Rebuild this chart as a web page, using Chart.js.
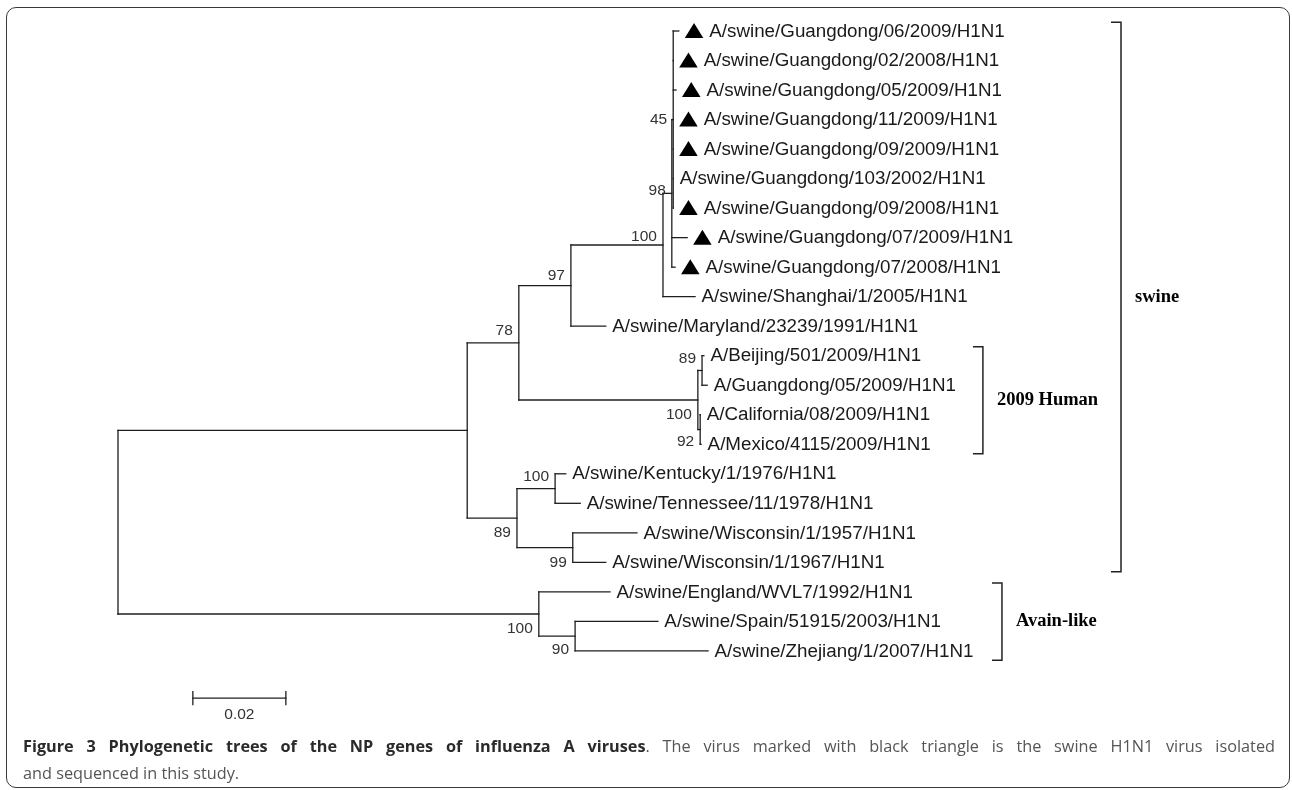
<!DOCTYPE html>
<html>
<head>
<meta charset="utf-8">
<script src="https://cdn.jsdelivr.net/npm/chart.js@4.4.0/dist/chart.umd.min.js"></script>
<style>
html, body { margin: 0; padding: 0; background: #fff; }
#wrap { position: relative; width: 1292px; height: 790px; overflow: hidden; }
#frame { position: absolute; left: 6px; top: 7px; width: 1284px; height: 781px; box-sizing: border-box;
         border: 1.5px solid #3a3a3a; border-radius: 10px; }
#tree { position: absolute; left: 0; top: 0; }
.cap { position: absolute; left: 23px; width: 1252px; font-family: 'Open Sans', sans-serif; font-size: 16.25px;
       line-height: 27px; color: #555; white-space: nowrap; }
#cap1 { top: 733px; text-align: justify; text-align-last: justify; white-space: normal; }
#cap2 { top: 760px; }
.cap b { color: #2a2a2a; }
</style>
</head>
<body>
<div id="wrap">
  <div id="frame"></div>
  <canvas id="tree" width="1292" height="790"></canvas>
  <div class="cap" id="cap1"><b>Figure 3 Phylogenetic trees of the NP genes of influenza A viruses</b>. The virus marked with black triangle is the swine H1N1 virus isolated</div>
  <div class="cap" id="cap2">and sequenced in this study.</div>
</div>
<script>
// leaves, top to bottom
var taxa = [
    'A/swine/Guangdong/06/2009/H1N1',
    'A/swine/Guangdong/02/2008/H1N1',
    'A/swine/Guangdong/05/2009/H1N1',
    'A/swine/Guangdong/11/2009/H1N1',
    'A/swine/Guangdong/09/2009/H1N1',
    'A/swine/Guangdong/103/2002/H1N1',
    'A/swine/Guangdong/09/2008/H1N1',
    'A/swine/Guangdong/07/2009/H1N1',
    'A/swine/Guangdong/07/2008/H1N1',
    'A/swine/Shanghai/1/2005/H1N1',
    'A/swine/Maryland/23239/1991/H1N1',
    'A/Beijing/501/2009/H1N1',
    'A/Guangdong/05/2009/H1N1',
    'A/California/08/2009/H1N1',
    'A/Mexico/4115/2009/H1N1',
    'A/swine/Kentucky/1/1976/H1N1',
    'A/swine/Tennessee/11/1978/H1N1',
    'A/swine/Wisconsin/1/1957/H1N1',
    'A/swine/Wisconsin/1/1967/H1N1',
    'A/swine/England/WVL7/1992/H1N1',
    'A/swine/Spain/51915/2003/H1N1',
    'A/swine/Zhejiang/1/2007/H1N1'
];
// distance from root (substitutions/site)
var tipDepth = [0.1206, 0.1194, 0.1200, 0.1194, 0.1194, 0.1194, 0.1194, 0.1224, 0.1198, 0.1241, 0.1049,
                0.1260, 0.1267, 0.1252, 0.1254, 0.0963, 0.0994, 0.1116, 0.1049, 0.1058, 0.1161, 0.1269];
// 1 = black triangle (isolated in this study)
var marked = [1, 1, 1, 1, 1, 0, 1, 1, 1, 0, 0, 0, 0, 0, 0, 0, 0, 0, 0, 0, 0, 0];

// internal nodes, children listed before parents
var nodeNames = ['n45', 'n98', 'n100a', 'n97', 'nH89', 'nH92', 'nH100', 'n78', 'nKT', 'n99', 'n89', 'nSw', 'n90', 'nAv', 'root'];
var nodeDepth = [0.1194, 0.1191, 0.1172, 0.0974, 0.1256, 0.1252, 0.1247, 0.0862, 0.0940, 0.0978, 0.0858, 0.0751, 0.0983, 0.0905, 0];
var nodeKids = [[0, 1, 2, 3, 4, 5, 6], ['n45', 7, 8], ['n98', 9], ['n100a', 10], [11, 12], [13, 14], ['nH89', 'nH92'],
                ['n97', 'nH100'], [15, 16], [17, 18], ['nKT', 'n99'], ['n78', 'n89'], [20, 21], [19, 'n90'], ['nSw', 'nAv']];
var bootstrap = ['45', '98', '100', '97', '89', '92', '100', '78', '100', '99', '89', '', '90', '100', ''];

var groupNames = ['swine', '2009 Human', 'Avain-like'];
var groupFirst = [0, 11, 19];
var groupLast = [18, 14, 21];

var scaleBarLen = 0.02;
var scaleBarText = '0.02';

// layout / style
var W = 1292, H = 790;
var rootPx = 118, pxPerUnit = 4650;
var firstRowPx = 31, rowGapPx = 29.52;
var bootShift = [0, -3, -8, -10, -12, 12, 15, -12, -12, 15, 15, 0, 14, 15, 0];
var bracketAt = [0.2157, 0.1860, 0.1901];
var scaleBarAt = { x: 0.0161, row: 22.6, tick: 0.22, labelRow: 23.17 };
var lineColor = '#1e1e1e';

var nodeRow = {}, nodeX = {};
function rowOf(r) { return typeof r === 'number' ? r : nodeRow[r]; }
function depthOf(r) { return typeof r === 'number' ? tipDepth[r] : nodeX[r]; }

var segments = [];
for (var i = 0; i < nodeNames.length; i++) {
    var kids = nodeKids[i];
    var r0 = rowOf(kids[0]), r1 = rowOf(kids[kids.length - 1]);
    nodeRow[nodeNames[i]] = (r0 + r1) / 2;
    nodeX[nodeNames[i]] = nodeDepth[i];
    segments.push([[nodeDepth[i], r0], [nodeDepth[i], r1]]);
    for (var k = 0; k < kids.length; k++) {
        segments.push([[nodeDepth[i], rowOf(kids[k])], [depthOf(kids[k]), rowOf(kids[k])]]);
    }
}
var sb0 = scaleBarAt.x, sb1 = scaleBarAt.x + scaleBarLen;
segments.push([[sb0, scaleBarAt.row], [sb1, scaleBarAt.row]]);
segments.push([[sb0, scaleBarAt.row - scaleBarAt.tick], [sb0, scaleBarAt.row + scaleBarAt.tick]]);
segments.push([[sb1, scaleBarAt.row - scaleBarAt.tick], [sb1, scaleBarAt.row + scaleBarAt.tick]]);

var datasets = segments.map(function (s) {
    return {
        data: [{ x: s[0][0], y: s[0][1] }, { x: s[1][0], y: s[1][1] }],
        showLine: true,
        borderColor: lineColor,
        borderWidth: 1.3,
        pointRadius: 0,
        borderCapStyle: 'square'
    };
});

var treeLabels = {
    id: 'treeLabels',
    afterDatasetsDraw: function (chart) {
        var ctx = chart.ctx, xs = chart.scales.x, ys = chart.scales.y;
        ctx.save();
        ctx.textBaseline = 'middle';

        // taxa and triangles
        ctx.font = '18.8px "Liberation Sans", Arial, sans-serif';
        ctx.textAlign = 'left';
        for (var i = 0; i < taxa.length; i++) {
            var px = xs.getPixelForValue(tipDepth[i]);
            var py = ys.getPixelForValue(i);
            var tx = px + 6.5;
            if (marked[i]) {
                ctx.fillStyle = '#000';
                ctx.beginPath();
                ctx.moveTo(px + 6, py + 7);
                ctx.lineTo(px + 24.5, py + 7);
                ctx.lineTo(px + 15.25, py - 8);
                ctx.closePath();
                ctx.fill();
                tx = px + 30.5;
            }
            ctx.fillStyle = '#1a1a1a';
            ctx.fillText(taxa[i], tx, py + 0.5);
        }

        // bootstrap values
        ctx.font = '15.5px "Liberation Sans", Arial, sans-serif';
        ctx.textAlign = 'right';
        ctx.fillStyle = '#333';
        for (var j = 0; j < nodeNames.length; j++) {
            if (!bootstrap[j]) continue;
            ctx.fillText(bootstrap[j], xs.getPixelForValue(nodeDepth[j]) - 6,
                ys.getPixelForValue(nodeRow[nodeNames[j]]) + bootShift[j]);
        }

        // scale bar label
        ctx.textAlign = 'center';
        ctx.fillText(scaleBarText, xs.getPixelForValue((sb0 + sb1) / 2), ys.getPixelForValue(scaleBarAt.labelRow));

        // group brackets
        ctx.strokeStyle = '#222';
        ctx.lineWidth = 1.5;
        ctx.fillStyle = '#000';
        ctx.font = 'bold 18.5px "Liberation Serif", "Times New Roman", serif';
        ctx.textAlign = 'left';
        for (var g = 0; g < groupNames.length; g++) {
            var bx = xs.getPixelForValue(bracketAt[g]);
            var top = ys.getPixelForValue(groupFirst[g] - 0.3);
            var bot = ys.getPixelForValue(groupLast[g] + 0.32);
            ctx.beginPath();
            ctx.moveTo(bx - 10, top);
            ctx.lineTo(bx, top);
            ctx.lineTo(bx, bot);
            ctx.lineTo(bx - 10, bot);
            ctx.stroke();
            ctx.fillText(groupNames[g], bx + 14, (top + bot) / 2);
        }
        ctx.restore();
    }
};

new Chart(document.getElementById('tree'), {
    type: 'scatter',
    data: { datasets: datasets },
    options: {
        responsive: false,
        animation: false,
        devicePixelRatio: 1,
        layout: { padding: 0 },
        plugins: { legend: { display: false }, tooltip: { enabled: false } },
        scales: {
            x: { type: 'linear', display: false, min: -rootPx / pxPerUnit, max: (W - rootPx) / pxPerUnit },
            y: { type: 'linear', display: false, reverse: true,
                 min: -firstRowPx / rowGapPx, max: (H - firstRowPx) / rowGapPx }
        }
    },
    plugins: [treeLabels]
});
</script>
</body>
</html>
